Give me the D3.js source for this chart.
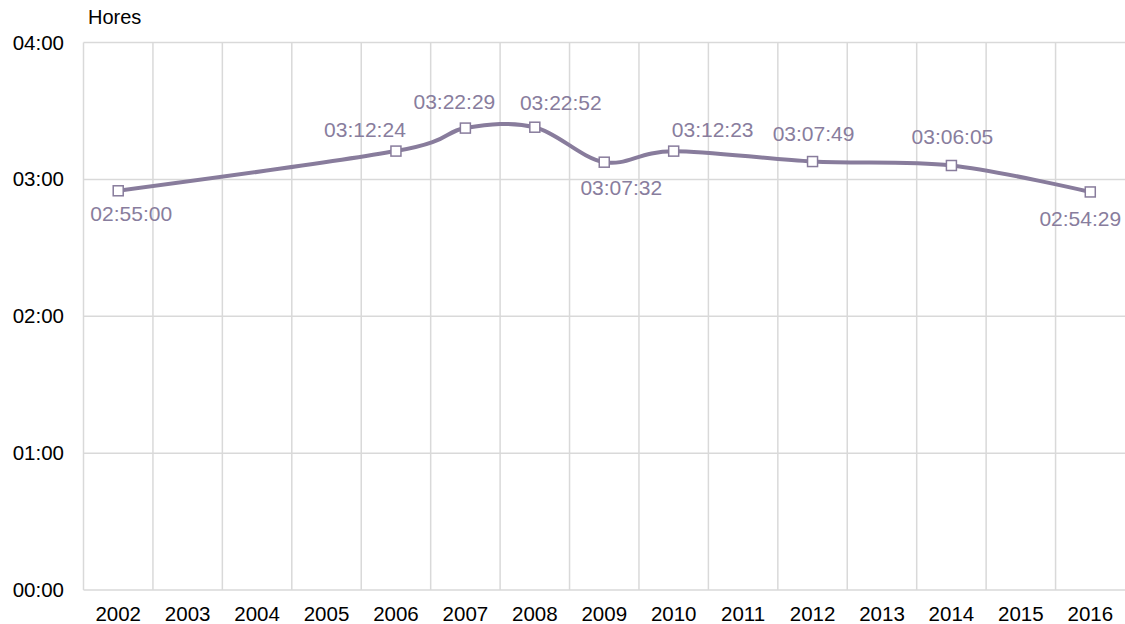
<!DOCTYPE html>
<html>
<head>
<meta charset="utf-8">
<script src="https://cdn.jsdelivr.net/npm/d3@7"></script>
<style>
  html, body { margin: 0; padding: 0; background: #ffffff; }
  svg { display: block; font-family: "Liberation Sans", Arial, sans-serif; }
</style>
</head>
<body>
<svg id="chart" width="1125" height="624"></svg>
<script>
// Years on the horizontal axis
const years = ["2002", "2003", "2004", "2005", "2006", "2007", "2008", "2009",
               "2010", "2011", "2012", "2013", "2014", "2015", "2016"];

// Average duration per year (hh:mm:ss); null where no survey value exists
const durations = ["02:55:00", null, null, null, "03:12:24", "03:22:29", "03:22:52",
                   "03:07:32", "03:12:23", null, "03:07:49", null, "03:06:05", null, "02:54:29"];

// Vertical axis ticks, in hours
const yTickHours = [0, 1, 2, 3, 4];
const yTickLabels = ["00:00", "01:00", "02:00", "03:00", "04:00"];

const axisTitle = "Hores";

// ---- helpers ----
const toHours = s => {
  const [h, m, sec] = s.split(":").map(Number);
  return h + m / 60 + sec / 3600;
};

const series = years
  .map((year, i) => ({ year, label: durations[i] }))
  .filter(d => d.label !== null)
  .map(d => ({ ...d, hours: toHours(d.label) }));

// Hand placement of each value label relative to its marker
const labelOffset = {
  "2002": [13, 30], "2006": [-31, -14], "2007": [-11, -19], "2008": [26, -17],
  "2009": [17, 33], "2010": [39, -14], "2012": [1, -21], "2014": [1, -21],
  "2016": [-10, 34]
};

// ---- layout ----
const svg = d3.select("#chart");
const plotLeft = 83.5, plotRight = 1125, plotTop = 42.5, plotBottom = 590;
const fontSize = 20.5;
const lineColor = "#887c9c";
const labelColor = "#887d9d";
const gridColor = "#d9d9d9";

const x = d3.scaleBand().domain(years).range([plotLeft, plotRight]).padding(0);
const y = d3.scaleLinear().domain([0, 4]).range([plotBottom, plotTop]);

// Gridlines
const grid = svg.append("g");
grid.selectAll("line.h")
  .data(yTickHours)
  .join("line")
  .attr("class", "h")
  .attr("x1", plotLeft).attr("x2", plotRight)
  .attr("y1", d => y(d)).attr("y2", d => y(d))
  .attr("stroke", gridColor).attr("stroke-width", 1.5);

grid.selectAll("line.v")
  .data(years)
  .join("line")
  .attr("class", "v")
  .attr("x1", d => x(d)).attr("x2", d => x(d))
  .attr("y1", plotTop).attr("y2", plotBottom)
  .attr("stroke", gridColor).attr("stroke-width", 1.5);

// Axes (labels only)
const yAxis = d3.axisLeft(y)
  .tickValues(yTickHours)
  .tickFormat((d, i) => yTickLabels[i])
  .tickSize(0)
  .tickPadding(19.5);

svg.append("g")
  .attr("transform", `translate(${plotLeft},0)`)
  .call(yAxis)
  .call(g => g.select(".domain").remove())
  .call(g => g.selectAll("text")
    .attr("font-size", fontSize)
    .attr("font-family", "Liberation Sans, Arial, sans-serif")
    .attr("fill", "#000"));

const xAxis = d3.axisBottom(x).tickSize(0).tickPadding(16.5);

svg.append("g")
  .attr("transform", `translate(0,${plotBottom})`)
  .call(xAxis)
  .call(g => g.select(".domain").remove())
  .call(g => g.selectAll("text")
    .attr("font-size", fontSize)
    .attr("font-family", "Liberation Sans, Arial, sans-serif")
    .attr("fill", "#000"));

// Axis title
svg.append("text")
  .attr("x", 88)
  .attr("y", 24)
  .attr("font-size", 20)
  .attr("fill", "#000")
  .text(axisTitle);

// Smoothed line through the available years
const cx = d => x(d.year) + x.bandwidth() / 2;
const line = d3.line()
  .x(cx)
  .y(d => y(d.hours))
  .curve(d3.curveCardinal.tension(0));

svg.append("path")
  .datum(series)
  .attr("d", line)
  .attr("fill", "none")
  .attr("stroke", lineColor)
  .attr("stroke-width", 4)
  .attr("stroke-linejoin", "round")
  .attr("stroke-linecap", "round");

// Square markers
const mk = 10;
svg.append("g")
  .selectAll("rect")
  .data(series)
  .join("rect")
  .attr("x", d => cx(d) - mk / 2)
  .attr("y", d => y(d.hours) - mk / 2)
  .attr("width", mk)
  .attr("height", mk)
  .attr("fill", "#fff")
  .attr("stroke", lineColor)
  .attr("stroke-width", 1.5);

// Value labels
svg.append("g")
  .selectAll("text")
  .data(series)
  .join("text")
  .attr("x", d => cx(d) + labelOffset[d.year][0])
  .attr("y", d => y(d.hours) + labelOffset[d.year][1])
  .attr("text-anchor", "middle")
  .attr("font-size", 21)
  .attr("fill", labelColor)
  .text(d => d.label);
</script>
</body>
</html>
